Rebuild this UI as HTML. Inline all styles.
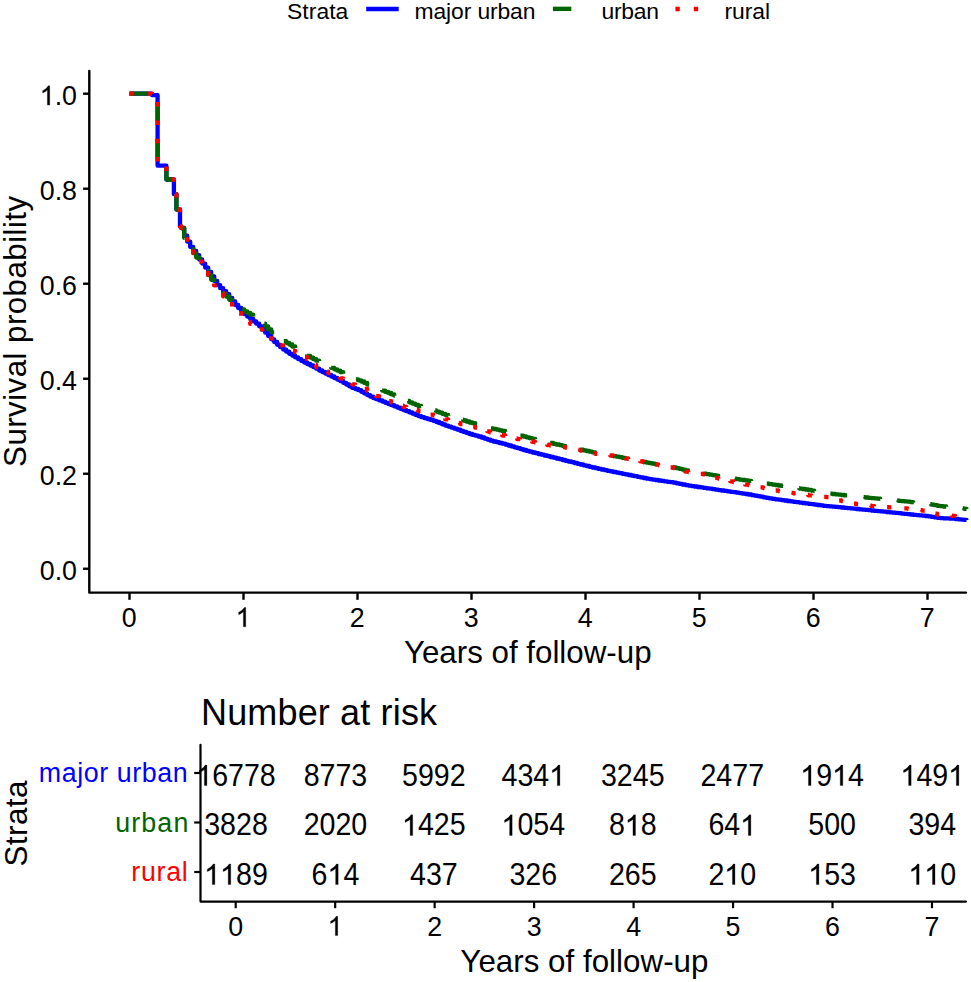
<!DOCTYPE html>
<html lang="en"><head><meta charset="utf-8"><style>
html,body{margin:0;padding:0;background:#fff;}
body{width:971px;height:982px;overflow:hidden;}
svg{display:block;font-family:"Liberation Sans", sans-serif;}
</style></head><body>
<svg width="971" height="982" viewBox="0 0 971 982">
<rect width="971" height="982" fill="#fff"/>
<g stroke="#000" stroke-width="2.4" fill="none" stroke-linecap="butt">
<path d="M89.3,70.9 V592.6 H966" stroke-linecap="round" stroke-linejoin="round"/>
<path d="M83.1,568.75 H89.3"/>
<path d="M83.1,473.74 H89.3"/>
<path d="M83.1,378.73 H89.3"/>
<path d="M83.1,283.72 H89.3"/>
<path d="M83.1,188.71 H89.3"/>
<path d="M83.1,93.70 H89.3"/>
<path d="M129.50,592.5 V599.8"/>
<path d="M243.50,592.5 V599.8"/>
<path d="M357.50,592.5 V599.8"/>
<path d="M471.50,592.5 V599.8"/>
<path d="M585.50,592.5 V599.8"/>
<path d="M699.50,592.5 V599.8"/>
<path d="M813.50,592.5 V599.8"/>
<path d="M927.50,592.5 V599.8"/>
</g>
<text transform="translate(39.74,580.15) scale(1,1.040)" font-size="26.80">0.0</text>
<text transform="translate(39.74,485.14) scale(1,1.040)" font-size="26.80">0.2</text>
<text transform="translate(39.74,390.13) scale(1,1.040)" font-size="26.80">0.4</text>
<text transform="translate(39.74,295.12) scale(1,1.040)" font-size="26.80">0.6</text>
<text transform="translate(39.74,200.11) scale(1,1.040)" font-size="26.80">0.8</text>
<text transform="translate(39.74,105.10) scale(1,1.040)" font-size="26.80">&#8199;.0</text><path d="M763 0L583 0L583 1147Q518 1085 412 1023Q306 961 222 930L222 1104Q373 1175 486 1276Q599 1377 646 1472L763 1472Z" transform="translate(39.74,105.10) scale(0.01309,-0.01309)" stroke="#000" stroke-width="22.9" stroke-linejoin="round"/>
<text transform="translate(121.75,626.80) scale(1,1.040)" font-size="26.80">0</text>
<text transform="translate(235.75,626.80) scale(1,1.040)" font-size="26.80">&#8199;</text><path d="M763 0L583 0L583 1147Q518 1085 412 1023Q306 961 222 930L222 1104Q373 1175 486 1276Q599 1377 646 1472L763 1472Z" transform="translate(235.75,626.80) scale(0.01309,-0.01309)" stroke="#000" stroke-width="22.9" stroke-linejoin="round"/>
<text transform="translate(349.75,626.80) scale(1,1.040)" font-size="26.80">2</text>
<text transform="translate(463.75,626.80) scale(1,1.040)" font-size="26.80">3</text>
<text transform="translate(577.75,626.80) scale(1,1.040)" font-size="26.80">4</text>
<text transform="translate(691.75,626.80) scale(1,1.040)" font-size="26.80">5</text>
<text transform="translate(805.75,626.80) scale(1,1.040)" font-size="26.80">6</text>
<text transform="translate(919.75,626.80) scale(1,1.040)" font-size="26.80">7</text>
<text x="403.95" y="662.80" font-size="31.30" textLength="247.60" lengthAdjust="spacing">Years of follow-up</text>
<text transform="translate(26.30,466.88) rotate(-90)" font-size="31.30" textLength="271.01" lengthAdjust="spacing">Survival probability</text>
<g fill="none" stroke-width="4.3" stroke-linejoin="round">
<path d="M129.5,93.6 H152 V95.2 H157.6 V165.7 H166.4 V179.5 H173.9 V194.2 H176.4 V209.5 H180 V226.4 H181.2 V228 H184.2 V235.7 H187.2 V241.7 H190.2 V246.9 H193.2 V251.0 H196.2 V255.2 H199.2 V259.5 H202.2 V263.6 H205.2 V267.7 H208.2 V271.9 H211.2 V276.4 H214.2 V280.9 H217.2 V285.2 H220.2 V288.2 H223.2 V291.2 H226.2 V294.2 H229.2 V297.8 H232.2 V301.4 H235.2 V305.0 H238.2 V308.0 H241.2 V311.1 H244.2 V314.1 H247.2 V316.5 H250.2 V318.9 H253.2 V321.3 H256.2 V323.7 H259.2 V326.3 H262.2 V329.5 H265.2 V332.7 H268.2 V336.0 H271.2 V339.3 H274.2 V342.0 H277.2 V344.8 H280.2 V347.2 H283.2 V349.6 H286.2 V351.7 H289.2 V353.8 H292.2 V355.6 H295.2 V357.4 H298.2 V359.2 H301.2 V360.9 H304.2 V362.5 H307.2 V364.0 H310.2 V365.5 H313.2 V367.0 H316.2 V368.7 H319.2 V370.5 H322.2 V372.0 H325.2 V373.5 H328.2 V375.0 H331.2 V376.5 H334.2 V378.0 H337.2 V379.5 H340.2 V381.0 H343.2 V382.8 H346.2 V384.5 H349.2 V386.3 H352.2 V387.9 H355.2 V389.0 H358.2 V390.2 H361.2 V391.8 H364.2 V393.4 H367.2 V395.1 H370.2 V396.7 H373.2 V398.0 H376.2 V399.2 H379.2 V400.4 H382.2 V401.6 H385.2 V402.8 H388.2 V404.0 H391.2 V405.2 H394.2 V406.4 H397.2 V407.6 H400.2 V408.8 H403.2 V410.0 H406.2 V411.2 H409.2 V412.4 H412.2 V413.6 H415.2 V414.8 H418.2 V416.1 H421.2 V417.2 H424.2 V418.1 H427.2 V419.0 H430.2 V419.9 H433.2 V420.8 H436.2 V422.0 H439.2 V423.2 H442.2 V424.4 H445.2 V425.6 H448.2 V426.6 H451.2 V427.6 H454.2 V428.7 H457.2 V429.7 H460.2 V430.8 H463.2 V431.9 H466.2 V432.9 H469.2 V434.0 H472.2 V434.9 H475.2 V435.7 H478.2 V436.5 H481.2 V437.5 H484.2 V438.6 H487.2 V439.6 H490.2 V440.7 H493.2 V441.5 H496.2 V442.2 H499.2 V443.0 H502.2 V443.7 H505.2 V444.6 H508.2 V445.5 H511.2 V446.4 H514.2 V447.3 H517.2 V448.2 H520.2 V449.1 H523.2 V450.0 H526.2 V450.9 H529.2 V451.7 H532.2 V452.5 H535.2 V453.2 H538.2 V454.0 H541.2 V454.7 H544.2 V455.5 H547.2 V456.2 H550.2 V457.0 H553.2 V457.7 H556.2 V458.5 H559.2 V459.2 H562.2 V460.0 H565.2 V460.8 H568.2 V461.5 H571.2 V462.2 H574.2 V463.0 H577.2 V463.8 H580.2 V464.5 H583.2 V465.3 H586.2 V466.0 H589.2 V466.8 H592.2 V467.5 H595.2 V468.2 H598.2 V468.9 H601.2 V469.5 H604.2 V470.1 H607.2 V470.8 H610.2 V471.4 H613.2 V472.0 H616.2 V472.6 H619.2 V473.2 H622.2 V473.8 H625.2 V474.4 H628.2 V475.0 H631.2 V475.6 H634.2 V476.2 H637.2 V476.8 H640.2 V477.4 H643.2 V478.0 H646.2 V478.6 H649.2 V479.1 H652.2 V479.6 H655.2 V480.0 H658.2 V480.5 H661.2 V480.9 H664.2 V481.4 H667.2 V481.8 H670.2 V482.2 H673.2 V482.7 H676.2 V483.3 H679.2 V483.9 H682.2 V484.5 H685.2 V485.1 H688.2 V485.6 H691.2 V486.1 H694.2 V486.5 H697.2 V487.0 H700.2 V487.4 H703.2 V487.8 H706.2 V488.3 H709.2 V488.7 H712.2 V489.2 H715.2 V489.6 H718.2 V490.1 H721.2 V490.5 H724.2 V490.9 H727.2 V491.4 H730.2 V491.8 H733.2 V492.2 H736.2 V492.7 H739.2 V493.1 H742.2 V493.6 H745.2 V494.0 H748.2 V494.5 H751.2 V495.1 H754.2 V495.6 H757.2 V496.2 H760.2 V496.7 H763.2 V497.3 H766.2 V497.8 H769.2 V498.4 H772.2 V498.9 H775.2 V499.3 H778.2 V499.7 H781.2 V500.1 H784.2 V500.5 H787.2 V501.0 H790.2 V501.4 H793.2 V501.8 H796.2 V502.2 H799.2 V502.6 H802.2 V503.0 H805.2 V503.4 H808.2 V503.8 H811.2 V504.2 H814.2 V504.6 H817.2 V505.0 H820.2 V505.4 H823.2 V505.8 H826.2 V506.1 H829.2 V506.4 H832.2 V506.6 H835.2 V506.9 H838.2 V507.2 H841.2 V507.5 H844.2 V507.8 H847.2 V508.1 H850.2 V508.4 H853.2 V508.7 H856.2 V509.0 H859.2 V509.3 H862.2 V509.6 H865.2 V509.9 H868.2 V510.2 H871.2 V510.5 H874.2 V510.8 H877.2 V511.1 H880.2 V511.4 H883.2 V511.7 H886.2 V512.0 H889.2 V512.3 H892.2 V512.6 H895.2 V512.9 H898.2 V513.2 H901.2 V513.6 H904.2 V513.9 H907.2 V514.2 H910.2 V514.5 H913.2 V514.8 H916.2 V515.1 H919.2 V515.4 H922.2 V515.7 H925.2 V516.0 H928.2 V516.4 H931.2 V516.9 H934.2 V517.3 H937.2 V517.8 H940.2 V518.1 H943.2 V518.3 H946.2 V518.4 H949.2 V518.6 H952.2 V518.7 H955.2 V519.0 H958.2 V519.3 H961.2 V519.6 H964.2 V519.9 H966.5 V520.0" stroke="#0000ff"/>
<path d="M129.5,93.6 H152 V95.2 H157.6 V165.7 H166.4 V179.5 H173.9 V194.2 H176.4 V209.5 H180 V226.4 H181.2 V228" stroke="#006400" stroke-dasharray="18.4 18.4"/>
<path d="M181.2,228 H184.2 V237.9 H187.2 V243.9 H190.2 V249.1 H193.2 V253.2 H196.2 V257.5 H199.2 V262.0 H202.2 V266.4 H205.2 V270.8 H208.2 V275.2 H211.2 V279.8 H214.2 V284.1 H217.2 V288.2 H220.2 V291.0 H223.2 V293.8 H226.2 V296.7 H229.2 V299.8 H232.2 V302.5 H235.2 V305.1 H238.2 V307.2 H241.2 V309.3 H244.2 V311.3 H247.2 V312.8 H250.2 V314.7 H253.2 V316.7 H256.2 V318.7 H259.2 V320.8 H262.2 V323.7 H265.2 V326.5 H268.2 V329.4 H271.2 V332.3 H274.2 V334.6 H277.2 V337.0 H280.2 V339.0 H283.2 V341.1 H286.2 V342.8 H289.2 V344.5 H292.2 V346.5 H295.2 V348.5 H298.2 V350.4 H301.2 V352.4 H304.2 V354.2 H307.2 V355.9 H310.2 V357.6 H313.2 V359.2 H316.2 V360.7 H319.2 V362.4 H322.2 V363.8 H325.2 V365.2 H328.2 V366.5 H331.2 V367.9 H334.2 V369.3 H337.2 V370.7 H340.2 V372.1 H343.2 V373.7 H346.2 V375.3 H349.2 V376.9 H352.2 V378.4 H355.2 V379.4 H358.2 V380.3 H361.2 V381.5 H364.2 V382.9 H367.2 V384.5 H370.2 V386.1 H373.2 V387.3 H376.2 V388.4 H379.2 V389.6 H382.2 V390.7 H385.2 V391.9 H388.2 V393.0 H391.2 V394.4 H394.2 V395.7 H397.2 V397.0 H400.2 V398.3 H403.2 V399.7 H406.2 V401.0 H409.2 V402.3 H412.2 V403.6 H415.2 V404.8 H418.2 V406.0 H421.2 V407.0 H424.2 V407.9 H427.2 V408.7 H430.2 V409.5 H433.2 V410.4 H436.2 V411.6 H439.2 V412.7 H442.2 V413.8 H445.2 V414.9 H448.2 V415.8 H451.2 V416.8 H454.2 V417.7 H457.2 V418.6 H460.2 V419.6 H463.2 V420.5 H466.2 V421.5 H469.2 V422.5 H472.2 V423.2 H475.2 V423.9 H478.2 V424.6 H481.2 V425.5 H484.2 V426.4 H487.2 V427.4 H490.2 V428.3 H493.2 V429.0 H496.2 V429.6 H499.2 V430.3 H502.2 V431.0 H505.2 V431.7 H508.2 V432.5 H511.2 V433.3 H514.2 V434.1 H517.2 V434.9 H520.2 V435.7 H523.2 V436.5 H526.2 V437.3 H529.2 V438.1 H532.2 V438.8 H535.2 V439.5 H538.2 V440.2 H541.2 V440.9 H544.2 V441.6 H547.2 V442.3 H550.2 V443.0 H553.2 V443.8 H556.2 V444.5 H559.2 V445.1 H562.2 V445.8 H565.2 V446.4 H568.2 V447.1 H571.2 V447.7 H574.2 V448.4 H577.2 V449.1 H580.2 V449.7 H583.2 V450.4 H586.2 V451.0 H589.2 V451.7 H592.2 V452.3 H595.2 V452.9 H598.2 V453.6 H601.2 V454.1 H604.2 V454.6 H607.2 V455.1 H610.2 V455.6 H613.2 V456.1 H616.2 V456.6 H619.2 V457.2 H622.2 V457.8 H625.2 V458.4 H628.2 V459.0 H631.2 V459.6 H634.2 V460.2 H637.2 V460.8 H640.2 V461.4 H643.2 V462.0 H646.2 V462.6 H649.2 V463.2 H652.2 V463.7 H655.2 V464.3 H658.2 V464.8 H661.2 V465.4 H664.2 V465.9 H667.2 V466.4 H670.2 V467.0 H673.2 V467.5 H676.2 V468.2 H679.2 V468.9 H682.2 V469.6 H685.2 V470.3 H688.2 V470.9 H691.2 V471.4 H694.2 V472.0 H697.2 V472.5 H700.2 V473.1 H703.2 V473.6 H706.2 V474.1 H709.2 V474.6 H712.2 V475.1 H715.2 V475.6 H718.2 V476.1 H721.2 V476.6 H724.2 V477.1 H727.2 V477.6 H730.2 V478.1 H733.2 V478.6 H736.2 V479.1 H739.2 V479.6 H742.2 V480.0 H745.2 V480.4 H748.2 V480.9 H751.2 V481.3 H754.2 V481.8 H757.2 V482.3 H760.2 V482.7 H763.2 V483.2 H766.2 V483.7 H769.2 V484.2 H772.2 V484.6 H775.2 V485.0 H778.2 V485.5 H781.2 V485.9 H784.2 V486.4 H787.2 V486.8 H790.2 V487.3 H793.2 V487.7 H796.2 V488.2 H799.2 V488.6 H802.2 V489.0 H805.2 V489.5 H808.2 V490.0 H811.2 V490.6 H814.2 V491.1 H817.2 V491.6 H820.2 V492.2 H823.2 V492.7 H826.2 V493.1 H829.2 V493.6 H832.2 V494.0 H835.2 V494.4 H838.2 V494.7 H841.2 V495.0 H844.2 V495.3 H847.2 V495.6 H850.2 V495.9 H853.2 V496.3 H856.2 V496.6 H859.2 V496.9 H862.2 V497.2 H865.2 V497.5 H868.2 V497.8 H871.2 V498.1 H874.2 V498.4 H877.2 V498.7 H880.2 V499.0 H883.2 V499.3 H886.2 V499.6 H889.2 V499.9 H892.2 V500.2 H895.2 V500.5 H898.2 V500.8 H901.2 V501.1 H904.2 V501.4 H907.2 V501.7 H910.2 V502.1 H913.2 V502.4 H916.2 V502.7 H919.2 V503.1 H922.2 V503.4 H925.2 V503.8 H928.2 V504.2 H931.2 V504.7 H934.2 V505.2 H937.2 V505.8 H940.2 V506.2 H943.2 V506.5 H946.2 V506.7 H949.2 V507.0 H952.2 V507.3 H955.2 V507.6 H958.2 V508.0 H961.2 V508.5 H964.2 V508.9 H966.5 V509.0" stroke="#006400" stroke-dasharray="18.4 18.4" stroke-dashoffset="189.10"/>
<path d="M129.5,93.6 H152 V95.2 H157.6 V165.7 H166.4 V179.5 H173.9 V194.2 H176.4 V209.5 H180 V226.4 H181.2 V228 H184.2 V236.3 H187.2 V242.5 H190.2 V248.2 H193.2 V252.6 H196.2 V257.2 H199.2 V261.7 H202.2 V266.0 H205.2 V270.2 H208.2 V274.7 H211.2 V280.2 H214.2 V285.4 H217.2 V289.9 H220.2 V293.0 H223.2 V296.4 H226.2 V300.0 H229.2 V304.2 H232.2 V307.5 H235.2 V310.6 H238.2 V313.2 H241.2 V316.2 H244.2 V319.4 H247.2 V322.0 H250.2 V323.9 H253.2 V325.7 H256.2 V327.4 H259.2 V329.4 H262.2 V331.7 H265.2 V333.9 H268.2 V336.1 H271.2 V338.4 H274.2 V340.9 H277.2 V343.3 H280.2 V345.4 H283.2 V347.2 H286.2 V348.5 H289.2 V349.8 H292.2 V350.9 H295.2 V352.2 H298.2 V353.9 H301.2 V355.5 H304.2 V357.0 H307.2 V359.2 H310.2 V362.0 H313.2 V364.8 H316.2 V367.1 H319.2 V368.8 H322.2 V370.3 H325.2 V371.7 H328.2 V373.1 H331.2 V374.4 H334.2 V375.7 H337.2 V377.0 H340.2 V378.3 H343.2 V379.8 H346.2 V381.4 H349.2 V382.9 H352.2 V384.3 H355.2 V385.2 H358.2 V386.2 H361.2 V387.6 H364.2 V389.0 H367.2 V390.8 H370.2 V392.9 H373.2 V394.6 H376.2 V396.2 H379.2 V397.4 H382.2 V398.7 H385.2 V399.9 H388.2 V401.2 H391.2 V402.4 H394.2 V403.5 H397.2 V404.6 H400.2 V405.7 H403.2 V406.8 H406.2 V407.7 H409.2 V408.5 H412.2 V409.3 H415.2 V410.1 H418.2 V411.0 H421.2 V412.1 H424.2 V413.0 H427.2 V413.8 H430.2 V414.7 H433.2 V415.5 H436.2 V416.5 H439.2 V417.4 H442.2 V418.4 H445.2 V419.4 H448.2 V420.3 H451.2 V421.2 H454.2 V422.2 H457.2 V423.1 H460.2 V424.0 H463.2 V424.8 H466.2 V425.6 H469.2 V426.4 H472.2 V427.0 H475.2 V427.7 H478.2 V428.4 H481.2 V429.4 H484.2 V430.3 H487.2 V431.3 H490.2 V432.4 H493.2 V433.2 H496.2 V434.0 H499.2 V434.8 H502.2 V435.5 H505.2 V436.3 H508.2 V437.0 H511.2 V437.7 H514.2 V438.5 H517.2 V439.2 H520.2 V439.8 H523.2 V440.4 H526.2 V441.0 H529.2 V441.5 H532.2 V441.9 H535.2 V442.5 H538.2 V443.1 H541.2 V443.7 H544.2 V444.4 H547.2 V445.0 H550.2 V445.5 H553.2 V445.9 H556.2 V446.3 H559.2 V446.7 H562.2 V447.1 H565.2 V447.6 H568.2 V448.2 H571.2 V448.8 H574.2 V449.3 H577.2 V449.9 H580.2 V450.5 H583.2 V451.2 H586.2 V451.9 H589.2 V452.6 H592.2 V453.2 H595.2 V453.8 H598.2 V454.3 H601.2 V454.6 H604.2 V454.9 H607.2 V455.3 H610.2 V455.6 H613.2 V456.1 H616.2 V456.7 H619.2 V457.3 H622.2 V457.8 H625.2 V458.4 H628.2 V459.0 H631.2 V459.6 H634.2 V460.2 H637.2 V460.8 H640.2 V461.4 H643.2 V462.0 H646.2 V462.7 H649.2 V463.3 H652.2 V463.8 H655.2 V464.4 H658.2 V465.0 H661.2 V465.6 H664.2 V466.2 H667.2 V466.8 H670.2 V467.5 H673.2 V468.1 H676.2 V469.0 H679.2 V469.9 H682.2 V470.7 H685.2 V471.6 H688.2 V472.1 H691.2 V472.6 H694.2 V473.0 H697.2 V473.5 H700.2 V473.9 H703.2 V474.4 H706.2 V475.3 H709.2 V476.1 H712.2 V476.9 H715.2 V477.8 H718.2 V478.5 H721.2 V479.2 H724.2 V479.9 H727.2 V480.6 H730.2 V481.3 H733.2 V482.0 H736.2 V482.7 H739.2 V483.3 H742.2 V484.0 H745.2 V484.7 H748.2 V485.2 H751.2 V485.8 H754.2 V486.3 H757.2 V486.9 H760.2 V487.4 H763.2 V488.0 H766.2 V488.7 H769.2 V489.4 H772.2 V490.0 H775.2 V490.5 H778.2 V491.0 H781.2 V491.5 H784.2 V491.9 H787.2 V492.4 H790.2 V492.9 H793.2 V493.3 H796.2 V493.7 H799.2 V494.1 H802.2 V494.5 H805.2 V494.9 H808.2 V495.3 H811.2 V495.6 H814.2 V495.9 H817.2 V496.3 H820.2 V496.6 H823.2 V496.9 H826.2 V497.1 H829.2 V497.8 H832.2 V498.7 H835.2 V499.5 H838.2 V500.3 H841.2 V501.1 H844.2 V501.8 H847.2 V502.4 H850.2 V503.1 H853.2 V503.7 H856.2 V504.2 H859.2 V504.6 H862.2 V505.0 H865.2 V505.4 H868.2 V505.7 H871.2 V506.1 H874.2 V506.3 H877.2 V506.6 H880.2 V506.8 H883.2 V507.0 H886.2 V507.2 H889.2 V507.4 H892.2 V507.6 H895.2 V507.8 H898.2 V508.0 H901.2 V508.2 H904.2 V508.3 H907.2 V508.6 H910.2 V509.0 H913.2 V509.4 H916.2 V509.8 H919.2 V510.2 H922.2 V510.7 H925.2 V511.3 H928.2 V512.1 H931.2 V512.9 H934.2 V513.7 H937.2 V514.6 H940.2 V515.0 H943.2 V515.2 H946.2 V515.4 H949.2 V515.6 H952.2 V515.9 H955.2 V516.2 H958.2 V516.6 H961.2 V517.0 H964.2 V517.4 H966.5 V517.5" stroke="#ff0000" stroke-dasharray="4.5 13.8"/>
</g>
<text x="287.00" y="19.30" font-size="22.90" textLength="61.33" lengthAdjust="spacing">Strata</text>
<path d="M366.2,9 H398.7" stroke="#0000ff" stroke-width="4.4"/>
<text x="414.50" y="19.30" font-size="22.90" textLength="120.94" lengthAdjust="spacing">major urban</text>
<path d="M552.9,8.85 H571.3" stroke="#006400" stroke-width="4.4"/>
<text x="601.50" y="19.30" font-size="22.90" textLength="57.41" lengthAdjust="spacing">urban</text>
<path d="M675.4,9 H679.8 M693.8,9 H698.2" stroke="#ff0000" stroke-width="4.4"/>
<text x="724.40" y="19.30" font-size="22.90" textLength="45.71" lengthAdjust="spacing">rural</text>
<text x="201.00" y="724.50" font-size="36.00" textLength="236.05" lengthAdjust="spacing">Number at risk</text>
<g stroke="#000" stroke-width="2.2" fill="none">
<path d="M200.5,744.8 V901.6 H966" stroke-linecap="round" stroke-linejoin="round"/>
<path d="M194.2,773.00 H200.6"/>
<path d="M194.2,822.50 H200.6"/>
<path d="M194.2,872.00 H200.6"/>
<path d="M235.70,901.6 V908.2"/>
<path d="M335.17,901.6 V908.2"/>
<path d="M434.64,901.6 V908.2"/>
<path d="M534.11,901.6 V908.2"/>
<path d="M633.58,901.6 V908.2"/>
<path d="M733.05,901.6 V908.2"/>
<path d="M832.52,901.6 V908.2"/>
<path d="M931.99,901.6 V908.2"/>
</g>
<text x="38.75" y="782.10" font-size="26.80" fill="#0000ff" textLength="148.89" lengthAdjust="spacing">major urban</text>
<text transform="translate(196.24,785.60) scale(1,1.075)" font-size="28.60">&#8199;6778</text><path d="M763 0L583 0L583 1147Q518 1085 412 1023Q306 961 222 930L222 1104Q373 1175 486 1276Q599 1377 646 1472L763 1472Z" transform="translate(196.24,785.60) scale(0.01396,-0.01396)" stroke="#000" stroke-width="21.5" stroke-linejoin="round"/>
<text transform="translate(303.66,785.60) scale(1,1.075)" font-size="28.60">8773</text>
<text transform="translate(402.03,785.60) scale(1,1.075)" font-size="28.60">5992</text>
<text transform="translate(501.50,785.60) scale(1,1.075)" font-size="28.60">434&#8199;</text><path d="M763 0L583 0L583 1147Q518 1085 412 1023Q306 961 222 930L222 1104Q373 1175 486 1276Q599 1377 646 1472L763 1472Z" transform="translate(549.22,785.60) scale(0.01396,-0.01396)" stroke="#000" stroke-width="21.5" stroke-linejoin="round"/>
<text transform="translate(600.97,785.60) scale(1,1.075)" font-size="28.60">3245</text>
<text transform="translate(700.44,785.60) scale(1,1.075)" font-size="28.60">2477</text>
<text transform="translate(800.31,785.60) scale(1,1.075)" font-size="28.60">&#8199;9&#8199;4</text><path d="M763 0L583 0L583 1147Q518 1085 412 1023Q306 961 222 930L222 1104Q373 1175 486 1276Q599 1377 646 1472L763 1472Z" transform="translate(800.31,785.60) scale(0.01396,-0.01396)" stroke="#000" stroke-width="21.5" stroke-linejoin="round"/><path d="M763 0L583 0L583 1147Q518 1085 412 1023Q306 961 222 930L222 1104Q373 1175 486 1276Q599 1377 646 1472L763 1472Z" transform="translate(832.12,785.60) scale(0.01396,-0.01396)" stroke="#000" stroke-width="21.5" stroke-linejoin="round"/>
<text transform="translate(900.48,785.60) scale(1,1.075)" font-size="28.60">&#8199;49&#8199;</text><path d="M763 0L583 0L583 1147Q518 1085 412 1023Q306 961 222 930L222 1104Q373 1175 486 1276Q599 1377 646 1472L763 1472Z" transform="translate(900.48,785.60) scale(0.01396,-0.01396)" stroke="#000" stroke-width="21.5" stroke-linejoin="round"/><path d="M763 0L583 0L583 1147Q518 1085 412 1023Q306 961 222 930L222 1104Q373 1175 486 1276Q599 1377 646 1472L763 1472Z" transform="translate(948.20,785.60) scale(0.01396,-0.01396)" stroke="#000" stroke-width="21.5" stroke-linejoin="round"/>
<text x="115.25" y="831.90" font-size="26.80" fill="#006400" textLength="73.04" lengthAdjust="spacing">urban</text>
<text transform="translate(204.19,835.40) scale(1,1.075)" font-size="28.60">3828</text>
<text transform="translate(303.66,835.40) scale(1,1.075)" font-size="28.60">2020</text>
<text transform="translate(402.03,835.40) scale(1,1.075)" font-size="28.60">&#8199;425</text><path d="M763 0L583 0L583 1147Q518 1085 412 1023Q306 961 222 930L222 1104Q373 1175 486 1276Q599 1377 646 1472L763 1472Z" transform="translate(402.03,835.40) scale(0.01396,-0.01396)" stroke="#000" stroke-width="21.5" stroke-linejoin="round"/>
<text transform="translate(501.50,835.40) scale(1,1.075)" font-size="28.60">&#8199;054</text><path d="M763 0L583 0L583 1147Q518 1085 412 1023Q306 961 222 930L222 1104Q373 1175 486 1276Q599 1377 646 1472L763 1472Z" transform="translate(501.50,835.40) scale(0.01396,-0.01396)" stroke="#000" stroke-width="21.5" stroke-linejoin="round"/>
<text transform="translate(608.92,835.40) scale(1,1.075)" font-size="28.60">8&#8199;8</text><path d="M763 0L583 0L583 1147Q518 1085 412 1023Q306 961 222 930L222 1104Q373 1175 486 1276Q599 1377 646 1472L763 1472Z" transform="translate(624.83,835.40) scale(0.01396,-0.01396)" stroke="#000" stroke-width="21.5" stroke-linejoin="round"/>
<text transform="translate(708.39,835.40) scale(1,1.075)" font-size="28.60">64&#8199;</text><path d="M763 0L583 0L583 1147Q518 1085 412 1023Q306 961 222 930L222 1104Q373 1175 486 1276Q599 1377 646 1472L763 1472Z" transform="translate(740.20,835.40) scale(0.01396,-0.01396)" stroke="#000" stroke-width="21.5" stroke-linejoin="round"/>
<text transform="translate(808.26,835.40) scale(1,1.075)" font-size="28.60">500</text>
<text transform="translate(908.43,835.40) scale(1,1.075)" font-size="28.60">394</text>
<text x="131.25" y="881.40" font-size="26.80" fill="#ff0000" textLength="56.51" lengthAdjust="spacing">rural</text>
<text transform="translate(204.19,884.60) scale(1,1.075)" font-size="28.60">&#8199;&#8199;89</text><path d="M763 0L583 0L583 1147Q518 1085 412 1023Q306 961 222 930L222 1104Q373 1175 486 1276Q599 1377 646 1472L763 1472Z" transform="translate(204.19,884.60) scale(0.01396,-0.01396)" stroke="#000" stroke-width="21.5" stroke-linejoin="round"/><path d="M763 0L583 0L583 1147Q518 1085 412 1023Q306 961 222 930L222 1104Q373 1175 486 1276Q599 1377 646 1472L763 1472Z" transform="translate(220.09,884.60) scale(0.01396,-0.01396)" stroke="#000" stroke-width="21.5" stroke-linejoin="round"/>
<text transform="translate(311.61,884.60) scale(1,1.075)" font-size="28.60">6&#8199;4</text><path d="M763 0L583 0L583 1147Q518 1085 412 1023Q306 961 222 930L222 1104Q373 1175 486 1276Q599 1377 646 1472L763 1472Z" transform="translate(327.52,884.60) scale(0.01396,-0.01396)" stroke="#000" stroke-width="21.5" stroke-linejoin="round"/>
<text transform="translate(409.98,884.60) scale(1,1.075)" font-size="28.60">437</text>
<text transform="translate(509.45,884.60) scale(1,1.075)" font-size="28.60">326</text>
<text transform="translate(608.92,884.60) scale(1,1.075)" font-size="28.60">265</text>
<text transform="translate(708.39,884.60) scale(1,1.075)" font-size="28.60">2&#8199;0</text><path d="M763 0L583 0L583 1147Q518 1085 412 1023Q306 961 222 930L222 1104Q373 1175 486 1276Q599 1377 646 1472L763 1472Z" transform="translate(724.30,884.60) scale(0.01396,-0.01396)" stroke="#000" stroke-width="21.5" stroke-linejoin="round"/>
<text transform="translate(808.26,884.60) scale(1,1.075)" font-size="28.60">&#8199;53</text><path d="M763 0L583 0L583 1147Q518 1085 412 1023Q306 961 222 930L222 1104Q373 1175 486 1276Q599 1377 646 1472L763 1472Z" transform="translate(808.26,884.60) scale(0.01396,-0.01396)" stroke="#000" stroke-width="21.5" stroke-linejoin="round"/>
<text transform="translate(908.43,884.60) scale(1,1.075)" font-size="28.60">&#8199;&#8199;0</text><path d="M763 0L583 0L583 1147Q518 1085 412 1023Q306 961 222 930L222 1104Q373 1175 486 1276Q599 1377 646 1472L763 1472Z" transform="translate(908.43,884.60) scale(0.01396,-0.01396)" stroke="#000" stroke-width="21.5" stroke-linejoin="round"/><path d="M763 0L583 0L583 1147Q518 1085 412 1023Q306 961 222 930L222 1104Q373 1175 486 1276Q599 1377 646 1472L763 1472Z" transform="translate(924.34,884.60) scale(0.01396,-0.01396)" stroke="#000" stroke-width="21.5" stroke-linejoin="round"/>
<text transform="translate(228.25,935.60) scale(1,1.040)" font-size="26.80">0</text>
<text transform="translate(327.72,935.60) scale(1,1.040)" font-size="26.80">&#8199;</text><path d="M763 0L583 0L583 1147Q518 1085 412 1023Q306 961 222 930L222 1104Q373 1175 486 1276Q599 1377 646 1472L763 1472Z" transform="translate(327.72,935.60) scale(0.01309,-0.01309)" stroke="#000" stroke-width="22.9" stroke-linejoin="round"/>
<text transform="translate(427.19,935.60) scale(1,1.040)" font-size="26.80">2</text>
<text transform="translate(526.66,935.60) scale(1,1.040)" font-size="26.80">3</text>
<text transform="translate(626.13,935.60) scale(1,1.040)" font-size="26.80">4</text>
<text transform="translate(725.60,935.60) scale(1,1.040)" font-size="26.80">5</text>
<text transform="translate(825.07,935.60) scale(1,1.040)" font-size="26.80">6</text>
<text transform="translate(924.54,935.60) scale(1,1.040)" font-size="26.80">7</text>
<text x="460.35" y="972.00" font-size="31.30" textLength="248.10" lengthAdjust="spacing">Years of follow-up</text>
<text transform="translate(26.60,866.58) rotate(-90)" font-size="31.30" textLength="85.97" lengthAdjust="spacing">Strata</text>
</svg>
</body></html>
